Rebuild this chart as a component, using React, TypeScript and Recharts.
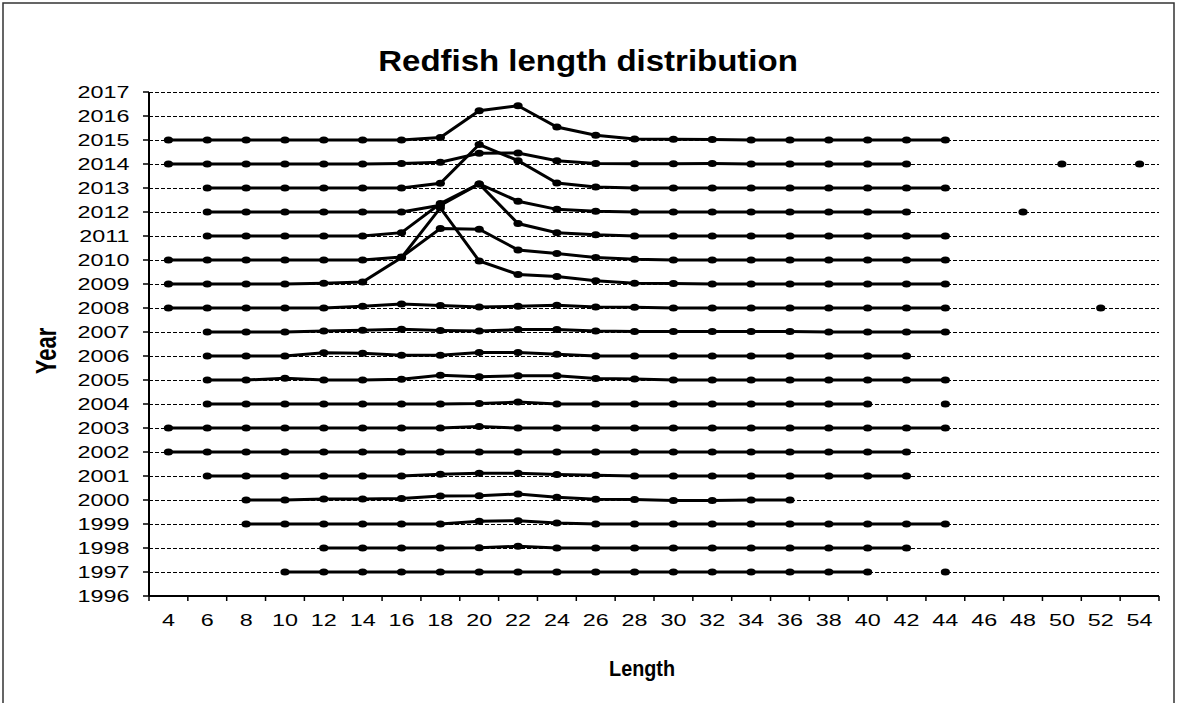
import React from 'react';
import { LineChart, Line, XAxis, YAxis, CartesianGrid } from 'recharts';

const _ = null;

// length classes (cm) on the x axis
const lengths = [4, 6, 8, 10, 12, 14, 16, 18, 20, 22, 24, 26, 28, 30, 32, 34, 36, 38, 40, 42, 44, 46, 48, 50, 52, 54];
// year ticks on the y axis
const years = [1996, 1997, 1998, 1999, 2000, 2001, 2002, 2003, 2004, 2005, 2006, 2007, 2008, 2009, 2010, 2011, 2012, 2013, 2014, 2015, 2016, 2017];

// each survey year: baseline = year, bump = share of catch in that length class
const y2015 = [2015, 2015, 2015, 2015, 2015, 2015, 2015, 2015.1, 2016.22, 2016.43, 2015.54, 2015.2, 2015.04, 2015.03, 2015.02, 2015, 2015, 2015, 2015, 2015, 2015, _, _, _, _, _];
const y2014 = [2014, 2014, 2014, 2014, 2014, 2014, 2014.02, 2014.07, 2014.45, 2014.46, 2014.14, 2014.02, 2014.01, 2014.01, 2014.02, 2014, 2014, 2014, 2014, 2014, _, _, _, 2014, _, 2014];
const y2013 = [_, 2013, 2013, 2013, 2013, 2013, 2013, 2013.2, 2014.81, 2014.14, 2013.21, 2013.04, 2013, 2013, 2013, 2013, 2013, 2013, 2013, 2013, 2013, _, _, _, _, _];
const y2012 = [_, 2012, 2012, 2012, 2012, 2012, 2012, 2012.28, 2013.17, 2012.45, 2012.11, 2012.03, 2012, 2012, 2012, 2012, 2012, 2012, 2012, 2012, _, _, 2012, _, _, _];
const y2011 = [_, 2011, 2011, 2011, 2011, 2011, 2011.14, 2012.35, 2013.17, 2011.52, 2011.14, 2011.05, 2011, 2011, 2011, 2011, 2011, 2011, 2011, 2011, 2011, _, _, _, _, _];
const y2010 = [2010, 2010, 2010, 2010, 2010, 2010, 2010.12, 2011.31, 2011.28, 2010.42, 2010.27, 2010.1, 2010.03, 2010, 2010, 2010, 2010, 2010, 2010, 2010, 2010, _, _, _, _, _];
const y2009 = [2009, 2009, 2009, 2009, 2009.03, 2009.08, 2010.1, 2012.17, 2009.96, 2009.4, 2009.31, 2009.14, 2009.03, 2009.02, 2009, 2009, 2009, 2009, 2009, 2009, 2009, _, _, _, _, _];
const y2008 = [2008, 2008, 2008, 2008, 2008, 2008.07, 2008.17, 2008.1, 2008.04, 2008.07, 2008.11, 2008.04, 2008.03, 2008, 2008, 2008, 2008, 2008, 2008, 2008, 2008, _, _, _, 2008, _];
const y2007 = [_, 2007, 2007, 2007, 2007.04, 2007.07, 2007.11, 2007.06, 2007.04, 2007.1, 2007.1, 2007.04, 2007.02, 2007.02, 2007.02, 2007.02, 2007.02, 2007, 2007, 2007, 2007, _, _, _, _, _];
const y2006 = [_, 2006, 2006, 2006, 2006.14, 2006.11, 2006.03, 2006.03, 2006.15, 2006.15, 2006.07, 2006, 2006, 2006, 2006, 2006, 2006, 2006, 2006, 2006, _, _, _, _, _, _];
const y2005 = [_, 2005, 2005, 2005.07, 2005, 2005, 2005.03, 2005.2, 2005.14, 2005.18, 2005.18, 2005.06, 2005.04, 2005, 2005, 2005, 2005, 2005, 2005, 2005, 2005, _, _, _, _, _];
const y2004 = [_, 2004, 2004, 2004, 2004, 2004, 2004, 2004, 2004.02, 2004.08, 2004, 2004, 2004, 2004, 2004, 2004, 2004, 2004, 2004, _, 2004, _, _, _, _, _];
const y2003 = [2003, 2003, 2003, 2003, 2003, 2003, 2003, 2003, 2003.06, 2003, 2003, 2003, 2003, 2003, 2003, 2003, 2003, 2003, 2003, 2003, 2003, _, _, _, _, _];
const y2002 = [2002, 2002, 2002, 2002, 2002, 2002, 2002, 2002, 2002, 2002, 2002, 2002, 2002, 2002, 2002, 2002, 2002, 2002, 2002, 2002, _, _, _, _, _, _];
const y2001 = [_, 2001, 2001, 2001, 2001, 2001, 2001, 2001.07, 2001.11, 2001.11, 2001.06, 2001.03, 2001, 2001, 2001, 2001, 2001, 2001, 2001, 2001, _, _, _, _, _, _];
const y2000 = [_, _, 2000, 2000, 2000.04, 2000.04, 2000.06, 2000.17, 2000.18, 2000.25, 2000.11, 2000.03, 2000.02, 1999.98, 1999.98, 2000, 2000, _, _, _, _, _, _, _, _, _];
const y1999 = [_, _, 1999, 1999, 1999, 1999, 1999, 1999, 1999.11, 1999.14, 1999.04, 1999, 1999, 1999, 1999, 1999, 1999, 1999, 1999, 1999, 1999, _, _, _, _, _];
const y1998 = [_, _, _, _, 1998, 1998, 1998, 1998, 1998.01, 1998.07, 1998, 1998, 1998, 1998, 1998, 1998, 1998, 1998, 1998, 1998, _, _, _, _, _, _];
const y1997 = [_, _, _, 1997, 1997, 1997, 1997, 1997, 1997, 1997, 1997, 1997, 1997, 1997, 1997, 1997, 1997, 1997, 1997, _, 1997, _, _, _, _, _];

const series: [string, (number | null)[]][] = [
  ['y1997', y1997], ['y1998', y1998], ['y1999', y1999], ['y2000', y2000], ['y2001', y2001],
  ['y2002', y2002], ['y2003', y2003], ['y2004', y2004], ['y2005', y2005], ['y2006', y2006],
  ['y2007', y2007], ['y2008', y2008], ['y2009', y2009], ['y2010', y2010], ['y2011', y2011],
  ['y2012', y2012], ['y2013', y2013], ['y2014', y2014], ['y2015', y2015],
];

const data = lengths.map((len, i) => {
  const row: any = { len };
  series.forEach(([key, vals]) => { row[key] = vals[i]; });
  return row;
});

// tick marks sit between the length classes, like the original category axis
const boundaries = [...lengths.map(l => l - 1), lengths[lengths.length - 1] + 1];

const W = 1177;
const H = 703;
const PLOT_L = 149;
const PLOT_R = 1159;
const PLOT_T = 92;
const PLOT_B = 596;
const UNIT = (PLOT_R - PLOT_L) / 52; // pixels per cm
const SX = 1.375; // tick text is stretched sideways in the source
const FONT = '"Liberation Sans", Arial, sans-serif';

const XTick = (props: any) => {
  const { x, payload } = props;
  const label = payload.value + 1;
  if (!lengths.includes(label)) return <g />;
  return (
    <text
      transform={`translate(${x + UNIT}, 626) scale(${SX}, 1)`}
      textAnchor="middle"
      fontFamily={FONT}
      fontSize={17}
      fill="#000"
    >
      {label}
    </text>
  );
};

const YTick = (props: any) => {
  const { y, payload } = props;
  return (
    <text
      transform={`translate(129.5, ${y}) scale(${SX}, 1)`}
      dy="0.36em"
      textAnchor="end"
      fontFamily={FONT}
      fontSize={17}
      fill="#000"
    >
      {payload.value}
    </text>
  );
};

const renderDot = (props: any) => {
  const { cx, cy, index, dataKey } = props;
  if (cx == null || cy == null || props.value == null) return <g key={`${dataKey}-${index}`} />;
  return <ellipse key={`${dataKey}-${index}`} cx={cx} cy={cy} rx={4.6} ry={3.5} fill="#000" />;
};

export default function App() {
  return (
    <div style={{ position: 'absolute', left: 0, top: 0, width: W, height: H, background: '#fff', overflow: 'hidden' }}>
      <LineChart
        width={W}
        height={H}
        data={data}
        margin={{ top: PLOT_T, right: W - PLOT_R, bottom: H - PLOT_B - 40, left: PLOT_L - 60 }}
      >
        <CartesianGrid vertical={false} stroke="#000" strokeDasharray="4 2" strokeWidth={1} shapeRendering="crispEdges" />
        <XAxis
          dataKey="len"
          type="number"
          domain={[3, 55]}
          ticks={boundaries}
          interval={0}
          height={40}
          tick={<XTick />}
          tickSize={5}
          axisLine={{ stroke: '#000', strokeWidth: 2 }}
          tickLine={{ stroke: '#000', strokeWidth: 1.5 }}
        />
        <YAxis
          type="number"
          domain={[1996, 2017]}
          ticks={years}
          interval={0}
          width={60}
          tick={<YTick />}
          tickSize={6}
          axisLine={{ stroke: '#000', strokeWidth: 2 }}
          tickLine={{ stroke: '#000', strokeWidth: 1.5 }}
        />
        {series.map(([key]) => (
          <Line
            key={key}
            dataKey={key}
            type="linear"
            stroke="#000"
            strokeWidth={3}
            dot={renderDot}
            activeDot={false}
            connectNulls={false}
            isAnimationActive={false}
          />
        ))}
      </LineChart>
      <svg width={W} height={H} style={{ position: 'absolute', left: 0, top: 0, pointerEvents: 'none' }}>
        <rect x={3} y={3} width={1171} height={800} fill="none" stroke="#333" strokeWidth={1.5} />
        <text
          transform="translate(588, 71) scale(1.1, 1)"
          textAnchor="middle"
          fontFamily={FONT}
          fontWeight="bold"
          fontSize={30}
          fill="#000"
        >
          Redfish length distribution
        </text>
        <text
          transform="translate(642, 676) scale(0.9, 1)"
          textAnchor="middle"
          fontFamily={FONT}
          fontWeight="bold"
          fontSize={22}
          fill="#000"
        >
          Length
        </text>
        <text
          transform={`translate(56, 351) scale(${SX}, 1) rotate(-90)`}
          textAnchor="middle"
          fontFamily={FONT}
          fontWeight="bold"
          fontSize={22}
          fill="#000"
        >
          Year
        </text>
      </svg>
    </div>
  );
}
